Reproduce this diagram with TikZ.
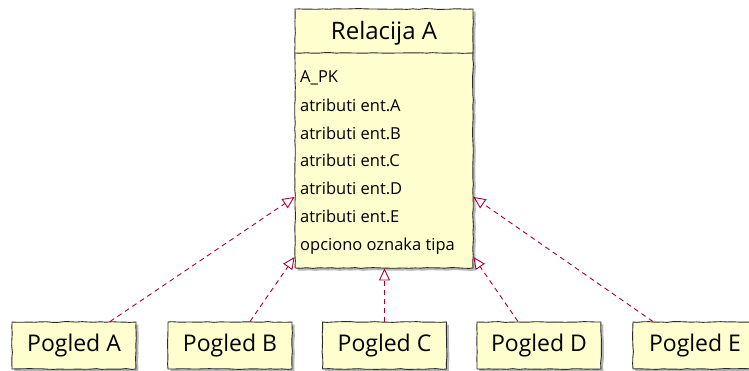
\documentclass[tikz,border=0pt]{standalone}
\usepackage{fontspec}
\setmainfont{Open Sans}
\usetikzlibrary{arrows.meta,shadows,decorations.pathmorphing,calc}

\definecolor{notefill}{HTML}{FEFECE}
\definecolor{linkred}{HTML}{A80036}
\definecolor{edgeink}{HTML}{2A2A2A}

\tikzset{
  sketchy/.style={decorate, decoration={random steps, segment length=6pt, amplitude=0.4pt}},
  classbox/.style={draw=edgeink, fill=notefill, line width=0.9pt, inner sep=0pt,
    sketchy, drop shadow={shadow xshift=2.5pt, shadow yshift=-2.5pt, fill=black, opacity=0.28}},
  viewbox/.style={classbox, minimum width=124pt, minimum height=47pt,
    font=\fontsize{23}{26}\selectfont},
  titletext/.style={font=\fontsize{24}{27}\selectfont, inner sep=0pt},
  attrtext/.style={font=\fontsize{16.5}{19}\selectfont, inner sep=0pt, anchor=base west},
  sepline/.style={draw=edgeink, line width=0.9pt, sketchy},
  realizes/.style={draw=linkred, line width=0.9pt, dash pattern=on 5pt off 4pt,
    -{Triangle[open, length=12pt, width=11pt]}},
}

\begin{document}
\begin{tikzpicture}[x=1pt, y=-1pt]
  \useasboundingbox (0,0) rectangle (749,371);

  % relation table
  \node[classbox, minimum width=178pt, minimum height=259pt] (rel) at (384,138.5) {};
  \node[titletext] (ttl) at (384,33) {Relacija A};
  \coordinate (sepy) at (0,53);
  \draw[sepline] (rel.west |- sepy) -- (rel.east |- sepy);

  \node[attrtext] (r1) at (300,83)  {A\_PK};
  \node[attrtext] (r2) at (300,112) {atributi ent.A};
  \node[attrtext] (r3) at (300,140) {atributi ent.B};
  \node[attrtext] (r4) at (300,167) {atributi ent.C};
  \node[attrtext] (r5) at (300,195) {atributi ent.D};
  \node[attrtext] (r6) at (300,223) {atributi ent.E};
  \node[attrtext] (r7) at (300,251) {opciono oznaka tipa};

  % views
  \node[viewbox] (pa) at (74,345.5)  {Pogled A};
  \node[viewbox] (pb) at (230,345.5) {Pogled B};
  \node[viewbox] (pc) at (384.5,345.5) {Pogled C};
  \node[viewbox] (pd) at (539,345.5) {Pogled D};
  \node[viewbox] (pe) at (695,345.5) {Pogled E};

  % realization links
  \draw[realizes] ([xshift=36pt]pa.north) -- ([yshift=-58.5pt]rel.west);
  \draw[realizes] ([xshift=20pt]pb.north) -- ([yshift=-118.5pt]rel.west);
  \draw[realizes] (pc.north) -- (pc.north |- rel.south);
  \draw[realizes] ([xshift=-21pt]pd.north) -- ([yshift=-118.5pt]rel.east);
  \draw[realizes] ([xshift=-42pt]pe.north) -- ([yshift=-58.5pt]rel.east);
\end{tikzpicture}
\end{document}
